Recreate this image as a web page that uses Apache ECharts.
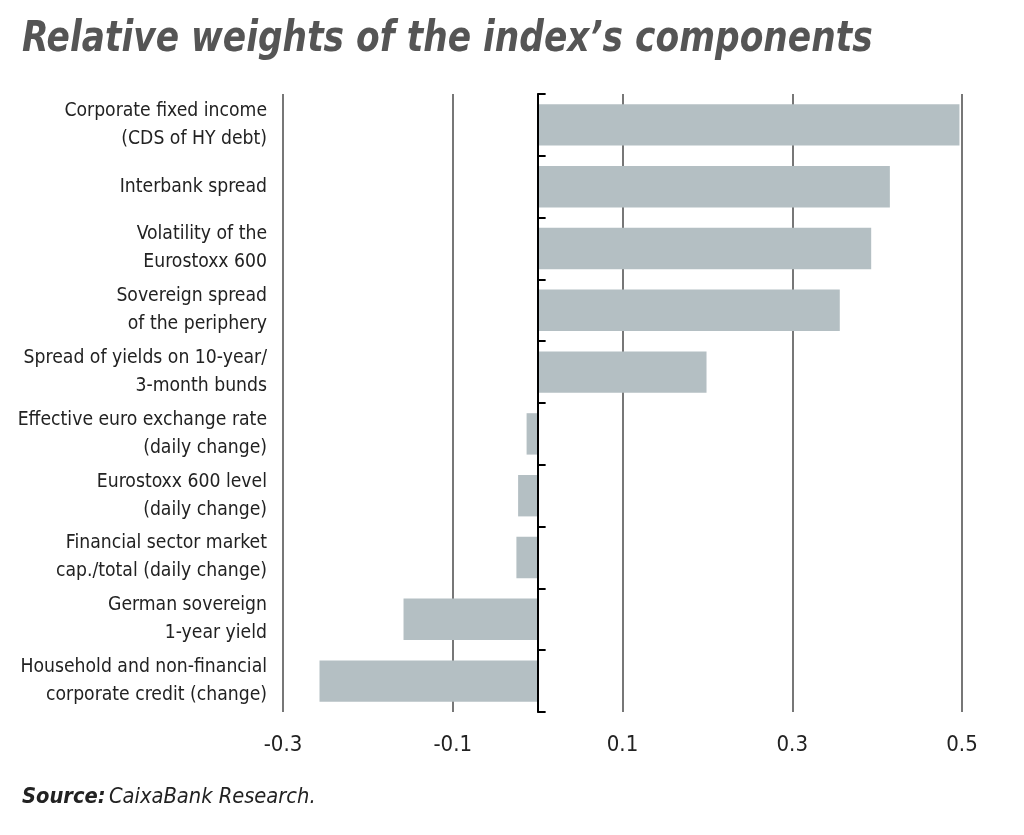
<!DOCTYPE html>
<html>
<head>
<meta charset="utf-8">
<script src="https://cdn.jsdelivr.net/npm/echarts@6/dist/echarts.min.js"></script>
<style>
html,body{margin:0;padding:0;background:#fff;}
#chart{width:1024px;height:835px;}
</style>
</head>
<body>
<div id="chart"></div>
<script>
const titleText = 'Relative weights of the index\u2019s components';
const categories = [
  'Corporate fixed income\n(CDS of HY debt)',
  'Interbank spread',
  'Volatility of the\nEurostoxx 600',
  'Sovereign spread\nof the periphery',
  'Spread of yields on 10-year/\n3-month bunds',
  'Effective euro exchange rate\n(daily change)',
  'Eurostoxx 600 level\n(daily change)',
  'Financial sector market\ncap./total (daily change)',
  'German sovereign\n1-year yield',
  'Household and non-financial\ncorporate credit (change)'
];
const weights = [0.497, 0.415, 0.393, 0.356, 0.199, -0.013, -0.023, -0.025, -0.158, -0.257];
const xTicks = [-0.3, -0.1, 0.1, 0.3, 0.5];
const xMin = -0.3, xMax = 0.5;

const FONT = '"Liberation Sans Narrow", "DejaVu Sans Condensed", sans-serif';
const W = 1024, gridLeft = 283, gridRight = 62;
const plotW = W - gridLeft - gridRight;
const zeroOffset = -((0 - xMin) / (xMax - xMin)) * plotW;

const chart = echarts.init(document.getElementById('chart'), null, {renderer: 'canvas'});
chart.setOption({
  backgroundColor: '#fff',
  animation: false,
  graphic: [{
    type: 'text', left: 22, top: 18, scaleX: 0.89,
    style: {
      text: titleText,
      font: 'italic bold 43px ' + FONT,
      fill: '#555'
    }
  }, {
    type: 'text', left: 22, top: 786,
    style: {
      text: '{b|Source:} {i|CaixaBank Research.}',
      rich: {
        b: {fontFamily: FONT, fontSize: 21.7, fontWeight: 'bold', fontStyle: 'italic', fill: '#222'},
        i: {fontFamily: FONT, fontSize: 21.7, fontStyle: 'italic', fill: '#222'}
      }
    }
  }],
  grid: {left: gridLeft, right: gridRight, top: 94, bottom: 123, containLabel: false, outerBoundsMode: 'none'},
  xAxis: {
    type: 'value', min: xMin, max: xMax, interval: 0.2,
    axisLine: {show: false}, axisTick: {show: false},
    splitLine: {show: true, lineStyle: {color: '#4a4a4a', width: 1.5}},
    axisLabel: {
      fontFamily: FONT, fontSize: 22, color: '#222', margin: 22,
      formatter: v => xTicks.some(t => Math.abs(t - v) < 1e-9) ? String(Math.round(v * 10) / 10) : ''
    }
  },
  yAxis: [{
    type: 'category', data: categories, inverse: true,
    axisLine: {show: false}, axisTick: {show: false},
    axisLabel: {fontFamily: FONT, fontSize: 19.2, color: '#222', margin: 16, lineHeight: 28, align: 'right'}
  }, {
    type: 'category', data: categories, inverse: true, position: 'left', offset: zeroOffset, z: 5,
    axisLine: {show: true, onZero: false, lineStyle: {color: '#000', width: 2}},
    axisTick: {show: true, inside: true, length: 8, lineStyle: {color: '#000', width: 2}},
    axisLabel: {show: false}
  }],
  series: [{
    type: 'bar', data: weights, yAxisIndex: 0,
    barCategoryGap: '33%',
    itemStyle: {color: '#b4bfc3'},
    z: 1
  }]
});
</script>
</body>
</html>
